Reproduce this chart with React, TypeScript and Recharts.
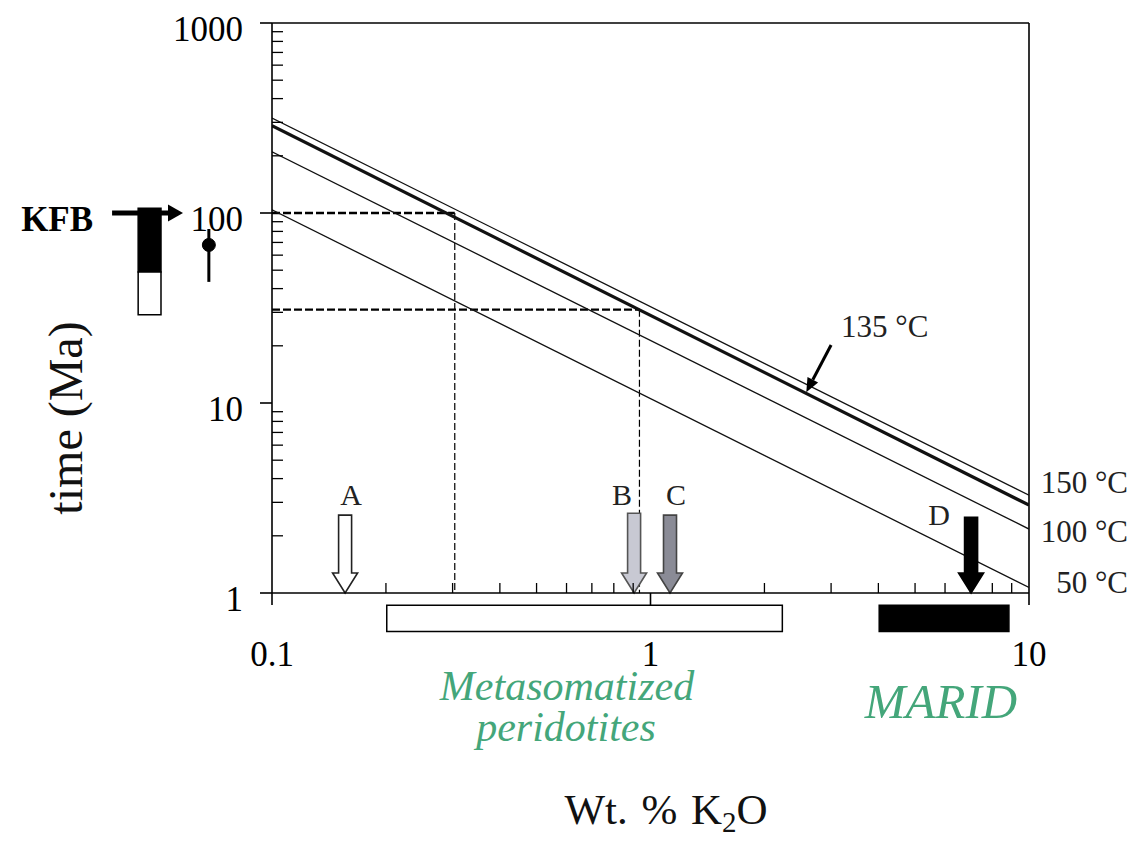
import React from 'react';
import {
  LineChart, Line, XAxis, YAxis, ReferenceLine, ReferenceArea, ReferenceDot,
} from 'recharts';

const SERIF = '"Liberation Serif", "Times New Roman", serif';
const GREEN = '#44a67a';

// Isotherms: time (Ma) at both ends of the K2O range
const isoK2O = [0.1, 10];
const time150 = [316, 3.27];
const time135 = [288, 2.9];
const time100 = [210, 2.17];
const time50 = [104, 1.07];

// axis ticks (log decades + minor steps)
const xMajorTicks = [0.1, 1, 10];
const xMinorTicks = [0.2, 0.3, 0.4, 0.5, 0.6, 0.7, 0.8, 0.9, 2, 3, 4, 5, 6, 7, 8, 9];
const yMajorTicks = [1, 10, 100, 1000];
const yMinorTicks = [
  2, 3, 4, 5, 6, 7, 8, 9,
  20, 30, 40, 50, 60, 70, 80, 90,
  200, 300, 400, 500, 600, 700, 800, 900,
];

// sample compositions (arrows A-D)
const sampleNames = ['A', 'B', 'C', 'D'];
const sampleK2O = [0.156, 0.905, 1.126, 7.03];
const sampleTop = [2.57, 2.63, 2.57, 2.5];

// K2O ranges of the source rocks, drawn as bars under the axis
const rangeFrom = [0.201, 4.02];
const rangeTo = [2.23, 8.85];
const rangeFill = ['#ffffff', '#000000'];

// read-off construction: age -> K2O on the 135 °C line
const guideAge = [100, 31];
const guideK2O = [0.304, 0.935];

// KFB ages, plotted left of the axis
const kfbColumnX = [0.0443, 0.0509];
const kfbColumnAge = [29.1, 48.9, 106];
const kfbPointX = 0.0681;
const kfbAge = 67.9;
const kfbAgeRange = [43.4, 82.4];
const kfbArrowX = [0.0378, 0.0582];
const kfbArrowAge = 100;

// 135 °C callout
const calloutFrom = { x: 3.0, y: 20.2 };
const calloutTo = { x: 2.58, y: 11.4 };

const isotherms = [
  { name: '150 °C', values: time150, width: 1.3, labelDy: -2 },
  { name: '135 °C', values: time135, width: 3.2, labelDy: null },
  { name: '100 °C', values: time100, width: 1.3, labelDy: 13 },
  { name: '50 °C', values: time50, width: 1.3, labelDy: 6 },
];

const sampleStyle = [
  { fill: '#ffffff', stroke: '#222', dx: 6, dy: -10 },
  { fill: '#c8c9d3', stroke: '#555', dx: -12, dy: -8 },
  { fill: '#8a8b96', stroke: '#444', dx: 6, dy: -10 },
  { fill: '#000000', stroke: '#000', dx: -32, dy: 8 },
];

function YTick({ x, y, payload }: any) {
  const v = payload.value;
  if (yMajorTicks.includes(v)) {
    return (
      <g>
        <line x1={x - 12} y1={y} x2={x} y2={y} stroke="#000" strokeWidth={1.6} />
        <text x={x - 29} y={y + 18} textAnchor="end" fontSize={35} fontFamily={SERIF} fill="#000">
          {v}
        </text>
      </g>
    );
  }
  return <line x1={x} y1={y} x2={x + 11} y2={y} stroke="#000" strokeWidth={1.3} />;
}

function XTick({ x, y, payload }: any) {
  const v = payload.value;
  if (xMajorTicks.includes(v)) {
    return (
      <g>
        <line x1={x} y1={y} x2={x} y2={y + 12} stroke="#000" strokeWidth={1.6} />
        <text x={x} y={y + 73} textAnchor="middle" fontSize={35} fontFamily={SERIF} fill="#000">
          {v}
        </text>
      </g>
    );
  }
  return <line x1={x} y1={y - 10} x2={x} y2={y} stroke="#000" strokeWidth={1.3} />;
}

// block arrow pointing down onto the axis, with its letter above
const blockArrow = (idx: number) => (p: any) => {
  const { x1, y1, y2 } = p;
  const s = sampleStyle[idx];
  const sw = 6.5, hw = 12.5, hh = 20;
  const pts = [
    [x1 - sw, y1], [x1 + sw, y1], [x1 + sw, y2 - hh], [x1 + hw, y2 - hh],
    [x1, y2], [x1 - hw, y2 - hh], [x1 - sw, y2 - hh],
  ].map((q) => q.join(',')).join(' ');
  return (
    <g>
      <polygon points={pts} fill={s.fill} stroke={s.stroke} strokeWidth={1.6} />
      <text x={x1 + s.dx} y={y1 + s.dy} textAnchor="middle" fontSize={30} fontFamily={SERIF} fill="#222">
        {sampleNames[idx]}
      </text>
    </g>
  );
};

// straight arrow with a filled head at the second point
const pointer = (width: number, headLen: number, headW: number, label?: React.ReactNode) => (p: any) => {
  const { x1, y1, x2, y2 } = p;
  const dx = x2 - x1, dy = y2 - y1;
  const L = Math.hypot(dx, dy) || 1;
  const ux = dx / L, uy = dy / L;
  const bx = x2 - ux * headLen, by = y2 - uy * headLen;
  const px = (-uy * headW) / 2, py = (ux * headW) / 2;
  return (
    <g>
      <line x1={x1} y1={y1} x2={bx} y2={by} stroke="#000" strokeWidth={width} />
      <polygon points={`${x2},${y2} ${bx + px},${by + py} ${bx - px},${by - py}`} fill="#000" />
      {label}
    </g>
  );
};

const kfbArrowShape = (p: any) =>
  pointer(5, 15, 17, (
    <text x={p.x1 - 19} y={p.y1 + 18} textAnchor="end" fontSize={35} fontWeight="bold" fontFamily={SERIF} fill="#000">
      KFB
    </text>
  ))(p);

const calloutShape = (p: any) =>
  pointer(3, 14, 12, (
    <text x={p.x1 + 10} y={p.y1 - 8} fontSize={31} fontFamily={SERIF} fill="#222">
      135 °C
    </text>
  ))(p);

const endLabel = (name: string, dy: number) => (props: any) => {
  if (props.index !== 1) return null;
  const x = props.x ?? props.viewBox?.x;
  const y = props.y ?? props.viewBox?.y;
  return (
    <text x={x + 99} y={y + dy} textAnchor="end" fontSize={31} fontFamily={SERIF} fill="#222">
      {name}
    </text>
  );
};

export default function App() {
  return (
    <div style={{ position: 'absolute', left: 0, top: 0, width: 1134, height: 845, background: '#fff' }}>
      <LineChart width={1134} height={845} margin={{ top: 23, right: 105, bottom: 212, left: 212 }}>
        <XAxis
          type="number" dataKey="k2o" scale="log" domain={[0.1, 10]} allowDataOverflow
          ticks={[...xMajorTicks, ...xMinorTicks].sort((a, b) => a - b)} interval={0}
          tickSize={0} tickMargin={0} tickLine={false} tick={<XTick />}
          axisLine={{ stroke: '#000', strokeWidth: 1.6 }} height={40}
        />
        <YAxis
          type="number" scale="log" domain={[1, 1000]} allowDataOverflow
          ticks={[...yMajorTicks, ...yMinorTicks].sort((a, b) => a - b)} interval={0}
          tickSize={0} tickMargin={0} tickLine={false} tick={<YTick />}
          axisLine={{ stroke: '#000', strokeWidth: 1.6 }} width={60}
        />

        {/* plot frame */}
        <ReferenceLine y={1000} stroke="#000" strokeWidth={1.6} ifOverflow="visible" />
        <ReferenceLine x={10} stroke="#000" strokeWidth={1.6} ifOverflow="visible" />

        {/* source-rock K2O ranges */}
        {rangeFrom.map((from, i) => (
          <ReferenceArea
            key={`range-${i}`} x1={from} x2={rangeTo[i]} y1={0.628} y2={0.861}
            fill={rangeFill[i]} fillOpacity={1} stroke="#000" strokeWidth={1.5} ifOverflow="visible"
          />
        ))}

        {/* KFB age column and dated point */}
        <ReferenceArea
          x1={kfbColumnX[0]} x2={kfbColumnX[1]} y1={kfbColumnAge[1]} y2={kfbColumnAge[2]}
          fill="#000" fillOpacity={1} stroke="#000" strokeWidth={1.5} ifOverflow="visible"
        />
        <ReferenceArea
          x1={kfbColumnX[0]} x2={kfbColumnX[1]} y1={kfbColumnAge[0]} y2={kfbColumnAge[1]}
          fill="#fff" fillOpacity={1} stroke="#000" strokeWidth={1.5} ifOverflow="visible"
        />
        <ReferenceLine
          segment={[{ x: kfbPointX, y: kfbAgeRange[0] }, { x: kfbPointX, y: kfbAgeRange[1] }]}
          stroke="#000" strokeWidth={3} ifOverflow="visible"
        />
        <ReferenceDot x={kfbPointX} y={kfbAge} r={6.5} fill="#000" stroke="#000" ifOverflow="visible" />
        <ReferenceLine
          segment={[{ x: kfbArrowX[0], y: kfbArrowAge }, { x: kfbArrowX[1], y: kfbArrowAge }]}
          shape={kfbArrowShape} ifOverflow="visible"
        />

        {/* age -> K2O read-off guides */}
        {guideAge.map((age, i) => (
          <ReferenceLine
            key={`gh-${i}`} segment={[{ x: 0.1, y: age }, { x: guideK2O[i], y: age }]}
            stroke="#000" strokeWidth={2.4} strokeDasharray="8 3" ifOverflow="visible"
          />
        ))}
        {guideAge.map((age, i) => (
          <ReferenceLine
            key={`gv-${i}`} segment={[{ x: guideK2O[i], y: age }, { x: guideK2O[i], y: 1 }]}
            stroke="#000" strokeWidth={1.2} strokeDasharray="7 3" ifOverflow="visible"
          />
        ))}

        {isotherms.map((s) => (
          <Line
            key={s.name}
            data={isoK2O.map((k, i) => ({ k2o: k, t: s.values[i] }))}
            dataKey="t" type="linear" stroke="#111" strokeWidth={s.width}
            dot={false} activeDot={false} isAnimationActive={false}
            label={s.labelDy === null ? false : endLabel(s.name, s.labelDy)}
          />
        ))}

        {/* sample arrows */}
        {sampleK2O.map((k, i) => (
          <ReferenceLine
            key={`s-${i}`} segment={[{ x: k, y: sampleTop[i] }, { x: k, y: 1 }]}
            shape={blockArrow(i)} ifOverflow="visible"
          />
        ))}

        <ReferenceLine segment={[calloutFrom, calloutTo]} shape={calloutShape} ifOverflow="visible" />
      </LineChart>

      <svg
        width={1134} height={845}
        style={{ position: 'absolute', left: 0, top: 0, pointerEvents: 'none' }}
        fontFamily={SERIF}
      >
        <text transform="translate(82,418) rotate(-90)" textAnchor="middle" fontSize={48} fill="#111">
          time (Ma)
        </text>
        <text x={666} y={824} textAnchor="middle" fontSize={43} wordSpacing={3} fill="#111">
          Wt. % K<tspan fontSize={29} dy={8}>2</tspan><tspan dy={-8}>O</tspan>
        </text>
        <text x={567} y={700} textAnchor="middle" fontSize={42} fontStyle="italic" fill={GREEN}>
          Metasomatized
        </text>
        <text x={566} y={741} textAnchor="middle" fontSize={42} fontStyle="italic" fill={GREEN}>
          peridotites
        </text>
        <text x={941} y={718} textAnchor="middle" fontSize={49} fontStyle="italic" fill={GREEN}>
          MARID
        </text>
      </svg>
    </div>
  );
}
